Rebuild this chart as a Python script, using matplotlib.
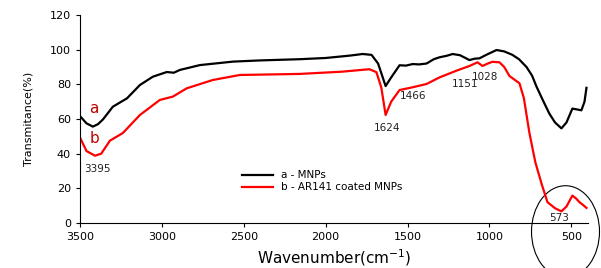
import matplotlib.pyplot as plt
from matplotlib.patches import Ellipse

# curve a - MNPs (wavenumber, transmittance)
wn_a = [3500, 3460, 3421, 3390, 3359, 3299, 3213, 3134, 3055, 2970, 2927, 2890, 2768,
        2567, 2400, 2159, 2000, 1850, 1774, 1720, 1680, 1634, 1600, 1549, 1510, 1469,
        1430, 1384, 1340, 1305, 1260, 1225, 1180, 1122, 1090, 1061, 1020, 957, 910,
        860, 820, 774, 740, 713, 670, 634, 600, 561, 530, 494, 465, 439, 420, 408]
tr_a = [61.7, 57.5, 55.6, 57.0, 59.8, 67.1, 71.9, 79.6, 84.4, 87.1, 86.7, 88.3, 91.1,
        93.1, 93.8, 94.5, 95.2, 96.6, 97.5, 97.0, 92.0, 79.0, 84.0, 91.0, 90.8, 91.7,
        91.5, 92.0, 94.5, 95.6, 96.5, 97.5, 96.8, 94.0, 94.8, 95.0, 97.0, 99.8, 99.0,
        97.0, 94.5, 90.0, 85.0, 78.7, 70.0, 63.0, 58.0, 54.6, 58.0, 66.0, 65.5, 65.0, 70.0, 78.0]

# curve b - AR141 coated MNPs
wn_b = [3500, 3460, 3408, 3370, 3317, 3238, 3134, 3012, 2933, 2848, 2689, 2524, 2159,
        1900, 1760, 1732, 1690, 1660, 1634, 1600, 1549, 1469, 1384, 1305, 1201, 1122,
        1073, 1043, 1010, 982, 939, 910, 878, 817, 790, 756, 720, 680, 646, 600, 561,
        530, 494, 470, 451, 430, 408]
tr_b = [49.4, 41.5, 38.8, 40.0, 47.5, 51.9, 62.3, 71.0, 72.9, 77.7, 82.5, 85.4, 86.0,
        87.3, 88.5, 88.7, 87.0, 78.0, 62.3, 70.0, 76.7, 78.3, 80.2, 84.0, 87.9, 90.6,
        92.7, 90.6, 92.0, 93.0, 92.7, 90.0, 84.8, 80.6, 72.0, 51.8, 35.0, 22.0, 12.0, 8.5, 6.7,
        9.5, 15.8, 14.0, 12.0, 10.5, 8.7]

peak_labels = ["3395", "1624", "1466", "1151", "1028", "573"]
peak_pos = [(3395, 31), (1624, 55), (1466, 73), (1151, 80), (1028, 84.5), (573, 3)]

fig = plt.figure(figsize=(6.01, 2.68), dpi=100)
ax = fig.add_axes([0.133, 0.168, 0.845, 0.776])

ax.plot(wn_a, tr_a, color="black", lw=1.6, label="a - MNPs")
ax.plot(wn_b, tr_b, color="red", lw=1.6, label="b - AR141 coated MNPs")

ax.set_xlim(3500, 400)
ax.set_ylim(0, 120)
ax.set_xticks([3500, 3000, 2500, 2000, 1500, 1000, 500])
ax.set_yticks([0, 20, 40, 60, 80, 100, 120])
ax.tick_params(labelsize=8, length=3, width=0.8)
ax.spines["top"].set_visible(False)
ax.spines["right"].set_visible(False)

ax.set_xlabel("Wavenumber(cm$^{-1}$)", fontsize=11, labelpad=4)
ax.set_ylabel("Transmitance(%)", fontsize=8, labelpad=12)

ax.text(3415, 66, "a", color="#c00000", fontsize=11, ha="center", va="center")
ax.text(3410, 49, "b", color="#c00000", fontsize=11, ha="center", va="center")
for lab, (x, y) in zip(peak_labels, peak_pos):
    ax.text(x, y, lab, fontsize=7.5, ha="center", va="center", color="#222222")

ax.legend(loc="center left", bbox_to_anchor=(0.3, 0.2), frameon=False, fontsize=7.5,
          handlelength=3, labelspacing=0.2)

ell = Ellipse((536, -5), 415, 53, fill=False, edgecolor="black", lw=0.8, clip_on=False)
ax.add_patch(ell)

plt.savefig("out.png", dpi=100)
